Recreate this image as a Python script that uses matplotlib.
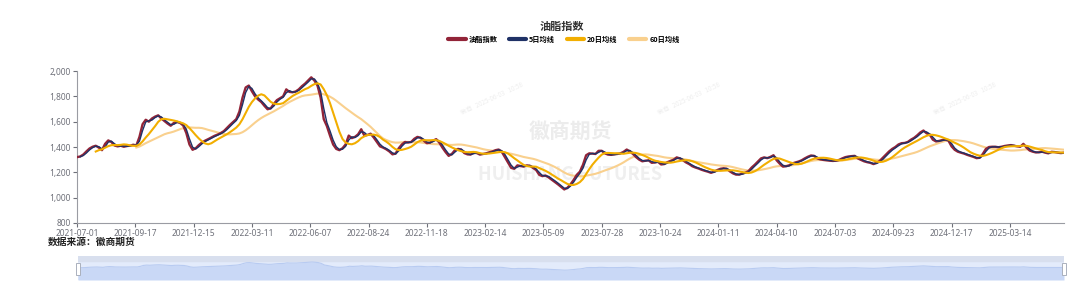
import numpy as np
import pandas as pd
import matplotlib
matplotlib.use("Agg")
import matplotlib.pyplot as plt
from matplotlib.lines import Line2D
from matplotlib.patches import Rectangle

plt.rcParams['font.family'] = ['Noto Sans CJK SC', 'DejaVu Sans']

# one reading every 3 trading days, starting 2021-07-01
step = 3
index_vals = [
    1320, 1325, 1340, 1365, 1388, 1402, 1410, 1395, 1375, 1425,
    1452, 1440, 1412, 1405, 1410, 1402, 1408, 1410, 1418, 1412,
    1480, 1580, 1615, 1600, 1625, 1640, 1650, 1625, 1605, 1585,
    1568, 1590, 1598, 1590, 1570, 1510, 1420, 1378, 1390, 1415,
    1435, 1450, 1462, 1475, 1488, 1498, 1510, 1525, 1550, 1575,
    1598, 1620, 1680, 1790, 1870, 1885, 1840, 1800, 1775, 1755,
    1725, 1698, 1705, 1740, 1770, 1785, 1800, 1855, 1835, 1832,
    1838, 1855, 1880, 1900, 1925, 1950, 1925, 1885, 1790, 1620,
    1565, 1490, 1420, 1385, 1375, 1390, 1420, 1490, 1470, 1480,
    1500, 1540, 1490, 1495, 1505, 1475, 1440, 1405, 1395, 1382,
    1365, 1342, 1348, 1390, 1420, 1440, 1435, 1440, 1465, 1480,
    1472, 1450, 1430, 1435, 1450, 1462, 1435, 1395, 1360, 1330,
    1345, 1375, 1385, 1380, 1352, 1342, 1340, 1355, 1352, 1340,
    1345, 1350, 1358, 1365, 1375, 1380, 1362, 1320, 1278, 1235,
    1228, 1255, 1250, 1245, 1255, 1252, 1235, 1218, 1180, 1170,
    1175, 1160, 1142, 1125, 1105, 1085, 1065, 1078, 1105, 1140,
    1180, 1205, 1260, 1335, 1350, 1348, 1345, 1370, 1370, 1350,
    1340, 1338, 1342, 1345, 1350, 1362, 1380, 1365, 1345, 1320,
    1300, 1287, 1292, 1295, 1275, 1278, 1283, 1262, 1265, 1280,
    1290, 1300, 1318, 1310, 1295, 1278, 1265, 1248, 1238, 1230,
    1220, 1212, 1205, 1196, 1205, 1218, 1228, 1232, 1228, 1208,
    1192, 1182, 1182, 1190, 1198, 1210, 1238, 1260, 1285, 1310,
    1318, 1312, 1322, 1335, 1295, 1268, 1245, 1248, 1255, 1270,
    1278, 1285, 1295, 1310, 1323, 1333, 1330, 1310, 1302, 1298,
    1295, 1292, 1290, 1292, 1298, 1310, 1320, 1325, 1328, 1330,
    1310, 1298, 1287, 1280, 1275, 1265, 1275, 1290, 1315, 1340,
    1365, 1385, 1400, 1420, 1430, 1432, 1440, 1458, 1472, 1492,
    1515, 1530, 1508, 1498, 1458, 1444, 1448, 1455, 1458, 1450,
    1405, 1378, 1363, 1355, 1348, 1338, 1330, 1322, 1312, 1315,
    1345, 1385, 1400, 1402, 1402, 1398, 1402, 1408, 1412, 1415,
    1410, 1405, 1402, 1425, 1395, 1372, 1363, 1357, 1358, 1363,
    1355, 1350, 1362, 1360, 1355, 1352, 1355,
]
tick_labels = ['2021-07-01', '2021-09-17', '2021-12-15', '2022-03-11', '2022-06-07',
               '2022-08-24', '2022-11-18', '2023-02-14', '2023-05-09', '2023-07-28',
               '2023-10-24', '2024-01-11', '2024-04-10', '2024-07-03', '2024-09-23',
               '2024-12-17', '2025-03-14']
tick_every = 56
y_ticks = [800, 1000, 1200, 1400, 1600, 1800, 2000]

names = ['油脂指数', '5日均线', '20日均线', '60日均线']
colors = ['#922438', '#1f3166', '#f2ae00', '#f9d08e']

s = pd.Series(index_vals, dtype=float)
days = np.arange(len(s)) * step
ma5 = s.rolling(2).mean()
ma20 = s.rolling(7).mean()
ma60 = s.rolling(20).mean()

fig = plt.figure(figsize=(10.8, 2.94), dpi=100)
ax = fig.add_axes([77 / 1080, 1 - 223 / 294, (1064 - 77) / 1080, 152 / 294])

# watermarks
ax.text(0.5, 0.6, '徽商期货', transform=ax.transAxes, fontsize=15, color='#ececec',
        ha='center', va='center', fontweight='bold', zorder=0)
ax.text(0.5, 0.32, 'HUISHANG FUTURES', transform=ax.transAxes, fontsize=13, color='#efefef',
        ha='center', va='center', fontweight='bold', zorder=0)
for wx in (0.42, 0.62, 0.9):
    ax.text(wx, 0.82, '徽商   2025-06-03   10:58', transform=ax.transAxes, fontsize=4.5,
            color='#eeeeee', rotation=25, ha='center', va='center', zorder=0)

ax.plot(days, s, color=colors[0], lw=1.7, zorder=3, solid_joinstyle='round')
ax.plot(days, ma5, color=colors[1], lw=1.0, zorder=4)
ax.plot(days, ma20, color=colors[2], lw=1.5, zorder=5)
ax.plot(days, ma60, color=colors[3], lw=1.5, zorder=2)

ax.set_xlim(0, days[-1])
ax.set_ylim(800, 2000)
ax.set_yticks(y_ticks)
ax.set_yticklabels([f'{v:,}' for v in y_ticks])
ax.set_xticks(np.arange(len(tick_labels)) * tick_every)
ax.set_xticklabels(tick_labels)
for lab in ax.get_xticklabels() + ax.get_yticklabels():
    lab.set_family(['Noto Sans', 'DejaVu Sans'])
ax.tick_params(axis='both', labelsize=6, colors='#6e7079', length=3, width=0.8, pad=1.5)
for side in ['top', 'right']:
    ax.spines[side].set_visible(False)
for side in ['left', 'bottom']:
    ax.spines[side].set_color('#9a9ca3')
    ax.spines[side].set_linewidth(0.8)

fig.text(562 / 1080, 1 - 26 / 294, '油脂指数', ha='center', va='center', fontsize=8,
         fontweight='bold', color='#333333')
handles = [Line2D([], [], color=c, lw=3, solid_capstyle='round') for c in colors]
fig.legend(handles, names, loc='center', bbox_to_anchor=(564 / 1080, 1 - 39 / 294), ncol=4,
           frameon=False, handlelength=2.4, handletextpad=0.4, columnspacing=1.6,
           prop={'weight': 'bold', 'size': 5.2})

fig.text(48 / 1080, 1 - 242 / 294, '数据来源：徽商期货', ha='left', va='center', fontsize=7,
         fontweight='bold', color='#222222')

# data zoom slider
sl = fig.add_axes([78 / 1080, 1 - 280 / 294, (1064 - 78) / 1080, 24 / 294])
sl.set_xlim(0, days[-1])
sl.set_ylim(0, 1)
sl.axis('off')
sl.add_patch(Rectangle((0, 0), days[-1], 1, color='#e3ebfb', zorder=0))
sl.add_patch(Rectangle((0, 0.8), days[-1], 0.2, color='#d8dfee', zorder=1))
shadow = s.values / s.max() * 0.75
sl.fill_between(days, 0, shadow, color='#c9d8f6', lw=0, zorder=2)
sl.plot(days, shadow, color='#b8cbf1', lw=0.8, zorder=3)
for xh in (0, days[-1]):
    sl.add_patch(Rectangle((xh - 2, 0.22), 4, 0.5, fc='white', ec='#aab0bd', lw=0.7,
                           zorder=5, clip_on=False))

fig.savefig('out.png', dpi=100)
